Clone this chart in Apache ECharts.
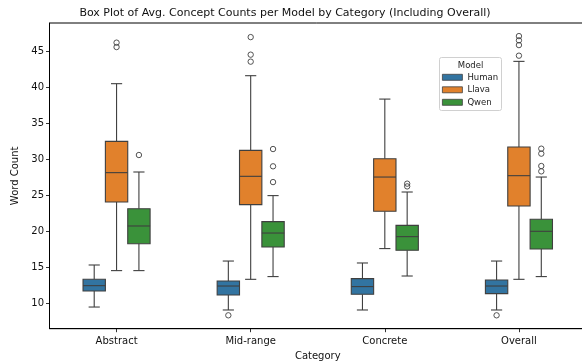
<!DOCTYPE html>
<html>
<head>
<meta charset="utf-8">
<script src="https://cdn.jsdelivr.net/npm/echarts@6/dist/echarts.min.js"></script>
<style>
  html, body { margin: 0; padding: 0; background: #fff; }
  #chart { width: 582px; height: 362px; }
</style>
</head>
<body>
<div id="chart"></div>
<script>
// categories and tick labels
const categories = ['Abstract', 'Mid-range', 'Concrete', 'Overall']
const yTicks = [10, 15, 20, 25, 30, 35, 40, 45]

// box stats per category: [lower whisker, Q1, median, Q3, upper whisker]
const humanStats = [
  [9.44, 11.67, 12.41, 13.29, 15.28],
  [9.03, 11.11, 12.36, 13.06, 15.83],
  [9.03, 11.21, 12.28, 13.39, 15.56],
  [9.03, 11.30, 12.36, 13.19, 15.83]
]
const llavaStats = [
  [14.5, 24.03, 28.11, 32.46, 40.47],
  [13.29, 23.67, 27.6, 31.2, 41.58],
  [17.56, 22.74, 27.5, 30.05, 38.33],
  [13.29, 23.47, 27.69, 31.67, 43.57]
]
const qwenStats = [
  [14.5, 18.24, 20.7, 23.1, 28.2],
  [13.67, 17.78, 19.72, 21.3, 24.92],
  [13.75, 17.32, 19.22, 20.79, 25.42],
  [13.67, 17.5, 19.96, 21.63, 27.5]
]

// outliers: [category index, value]
const humanOutliers = [[1, 8.29], [3, 8.29]]
const llavaOutliers = [
  [0, 46.17], [0, 45.56],
  [1, 46.94], [1, 44.5], [1, 43.53],
  [3, 47.08], [3, 46.49], [3, 45.83], [3, 44.36]
]
const qwenOutliers = [
  [0, 30.56],
  [1, 31.39], [1, 28.99], [1, 26.8],
  [2, 26.58], [2, 26.2],
  [3, 31.44], [3, 30.75], [3, 29.03], [3, 28.29]
]

const LINE = '#3f3f3f'
const FONT = 'DejaVu Sans'

function boxRenderer (k) {
  return function (params, api) {
    const band = api.size([1, 0])[0]
    const w = band / 6
    const cx = api.coord([api.value(0), 0])[0] + k * w
    const y = [1, 2, 3, 4, 5].map(function (d) {
      return api.coord([api.value(0), api.value(d)])[1]
    })
    const ls = { stroke: LINE, lineWidth: 1.1, fill: null }
    return {
      type: 'group',
      children: [
        { type: 'line', shape: { x1: cx, y1: y[0], x2: cx, y2: y[1] }, style: ls },
        { type: 'line', shape: { x1: cx, y1: y[3], x2: cx, y2: y[4] }, style: ls },
        { type: 'line', shape: { x1: cx - w / 4, y1: y[0], x2: cx + w / 4, y2: y[0] }, style: ls },
        { type: 'line', shape: { x1: cx - w / 4, y1: y[4], x2: cx + w / 4, y2: y[4] }, style: ls },
        {
          type: 'rect',
          shape: { x: cx - w / 2, y: y[3], width: w, height: y[1] - y[3] },
          style: { fill: api.visual('color'), stroke: LINE, lineWidth: 1.1 }
        },
        { type: 'line', shape: { x1: cx - w / 2, y1: y[2], x2: cx + w / 2, y2: y[2] }, style: ls }
      ]
    }
  }
}

function outlierRenderer (k) {
  return function (params, api) {
    const w = api.size([1, 0])[0] / 6
    const p = api.coord([api.value(0), api.value(1)])
    return {
      type: 'circle',
      shape: { cx: p[0] + k * w, cy: p[1], r: 2.7 },
      style: { fill: 'none', stroke: LINE, lineWidth: 0.9 }
    }
  }
}

function boxSeries (name, color, stats, k) {
  return {
    name: name,
    type: 'custom',
    renderItem: boxRenderer(k),
    itemStyle: { color: color },
    encode: { x: 0, y: [1, 2, 3, 4, 5] },
    data: stats.map(function (s, i) { return [i].concat(s) })
  }
}

function outlierSeries (name, outliers, k) {
  return {
    name: name,
    type: 'custom',
    renderItem: outlierRenderer(k),
    encode: { x: 0, y: 1 },
    data: outliers
  }
}

const chart = echarts.init(document.getElementById('chart'))
chart.setOption({
  animation: false,
  textStyle: { fontFamily: FONT },
  title: {
    text: 'Box Plot of Avg. Concept Counts per Model by Category (Including Overall)',
    left: 285,
    top: 8,
    padding: 0,
    textAlign: 'center',
    textStyle: { fontFamily: FONT, fontSize: 11, fontWeight: 'normal', color: '#111' }
  },
  grid: {
    left: 49.5,
    width: 536.5,
    top: 23,
    bottom: 33.3,
    outerBoundsMode: 'none',
    containLabel: false,
    show: true,
    borderColor: '#000',
    borderWidth: 1
  },
  legend: {
    data: ['Human', 'Llava', 'Qwen'],
    orient: 'vertical',
    left: 442,
    top: 72.3,
    padding: 0,
    icon: 'rect',
    itemWidth: 20,
    itemHeight: 6,
    itemGap: 2.5,
    itemStyle: { borderColor: LINE, borderWidth: 0.8 },
    textStyle: { fontFamily: FONT, fontSize: 8.5, lineHeight: 10, color: '#222' }
  },
  graphic: [
    {
      type: 'rect',
      z: 0,
      shape: { x: 439.5, y: 57.5, width: 62, height: 53, r: 2 },
      style: { fill: 'rgba(255,255,255,0.8)', stroke: '#d0d0d0', lineWidth: 1 }
    },
    {
      type: 'text',
      z: 1,
      x: 470.6,
      y: 65.3,
      style: {
        text: 'Model',
        fontFamily: FONT,
        fontSize: 8.5,
        fill: '#222',
        align: 'center',
        verticalAlign: 'middle'
      }
    }
  ],
  xAxis: {
    type: 'category',
    data: categories,
    boundaryGap: true,
    name: 'Category',
    nameLocation: 'middle',
    nameGap: 21.5,
    nameTextStyle: { fontFamily: FONT, fontSize: 10, color: '#111' },
    axisLine: { show: true, lineStyle: { color: '#000', width: 1 } },
    axisTick: { show: true, alignWithLabel: true, length: 3.5, lineStyle: { color: '#000', width: 0.8 } },
    axisLabel: { fontFamily: FONT, fontSize: 10, color: '#111', margin: 7.5 },
    splitLine: { show: false }
  },
  yAxis: {
    type: 'value',
    min: 6.43,
    max: 48.9,
    name: 'Word Count',
    nameLocation: 'middle',
    nameGap: 22,
    nameTextStyle: { fontFamily: FONT, fontSize: 10, color: '#111' },
    axisLine: { show: true, lineStyle: { color: '#000', width: 1 } },
    axisTick: { show: true, length: 3.5, customValues: yTicks, lineStyle: { color: '#000', width: 0.8 } },
    axisLabel: { fontFamily: FONT, fontSize: 10, color: '#111', margin: 5.5, customValues: yTicks },
    splitLine: { show: false }
  },
  series: [
    boxSeries('Human', '#3274a1', humanStats, -1),
    boxSeries('Llava', '#e1812c', llavaStats, 0),
    boxSeries('Qwen', '#3a923a', qwenStats, 1),
    outlierSeries('Human outliers', humanOutliers, -1),
    outlierSeries('Llava outliers', llavaOutliers, 0),
    outlierSeries('Qwen outliers', qwenOutliers, 1)
  ]
})
</script>
</body>
</html>
